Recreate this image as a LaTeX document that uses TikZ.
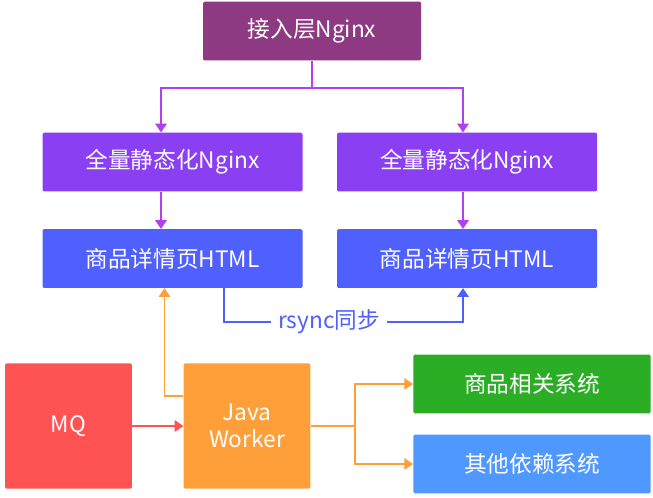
\documentclass[tikz,border=0pt]{standalone}
\usepackage{fontspec}
\setmainfont{Noto Sans CJK SC}
\usetikzlibrary{positioning,calc,arrows.meta}
\definecolor{entrycol}{HTML}{8E3A82}
\definecolor{nginxcol}{HTML}{8A3FF2}
\definecolor{htmlcol}{HTML}{5060FF}
\definecolor{mqcol}{HTML}{FF5252}
\definecolor{javacol}{HTML}{FF9F3A}
\definecolor{goodscol}{HTML}{2BAE25}
\definecolor{othercol}{HTML}{4F98FF}
\definecolor{linkcol}{HTML}{B23FF2}
\tikzset{>={Triangle[width=8.5pt,length=6.5pt]},
  box/.style={rectangle,rounded corners=1pt,text=white,font=\fontsize{17}{20}\selectfont,
    minimum width=195pt,minimum height=44pt,inner sep=0pt,align=center},
  link/.style={line width=1.3pt,draw=linkcol,->},
  worklink/.style={line width=1.3pt,draw=javacol,->},
  synclink/.style={line width=1.3pt,draw=htmlcol,->}}

\begin{document}
\begin{tikzpicture}[x=0.75pt,y=-0.75pt]
\useasboundingbox (0,0) rectangle (653,497);
\node[box,fill=entrycol,minimum width=163.5pt] (entry) at (312,31) {接入层Nginx};
\node[box,fill=nginxcol] (nginxL) at (172.5,162) {全量静态化Nginx};
\node[box,fill=nginxcol] (nginxR) at (467,162) {全量静态化Nginx};
\node[box,fill=htmlcol] (htmlL) at (172.5,258.5) {商品详情页HTML};
\node[box,fill=htmlcol] (htmlR) at (467,258.5) {商品详情页HTML};
\node[box,fill=mqcol,minimum width=95pt,minimum height=94pt] (mq) at (68.5,426) {MQ};
\node[box,fill=javacol,minimum width=95pt,minimum height=94pt] (java) at (247,426) {Java\\Worker};
\node[box,fill=goodscol,minimum width=178pt] (goods) at (532,384) {商品相关系统};
\node[box,fill=othercol,minimum width=178pt] (other) at (532,464) {其他依赖系统};

\coordinate (split) at (312,88);
\coordinate (colL) at (161,0);
\coordinate (colR) at (463,0);
\coordinate (syncR) at (463,322);
\coordinate (fork) at (355,426);
% access layer down to the two nginx
\draw[link] (entry.south) -- (split) -| (colL |- nginxL.north);
\draw[link] (split) -| (colR |- nginxR.north);
\draw[link] (colL |- nginxL.south) -- (colL |- htmlL.north);
\draw[link] (colR |- nginxR.south) -- (colR |- htmlR.north);
% rsync between the pages
\draw[synclink] ([xshift=38.5pt]htmlL.south) |- node[pos=.72,fill=white,text=htmlcol,
  font=\fontsize{17}{20}\selectfont,inner xsep=5pt] {rsync同步} (syncR) -- (colR |- htmlR.south);
% worker
\draw[line width=1.3pt,draw=mqcol,->] (mq.east) -- (java.west);
\draw[worklink] ([yshift=22.5pt]java.west) -| ([xshift=-6pt]htmlL.south);
\draw[line width=1.3pt,draw=javacol] (java.east) -- (fork);
\draw[worklink] (fork) |- (goods.west);
\draw[worklink] (fork) |- (other.west);
\end{tikzpicture}
\end{document}
